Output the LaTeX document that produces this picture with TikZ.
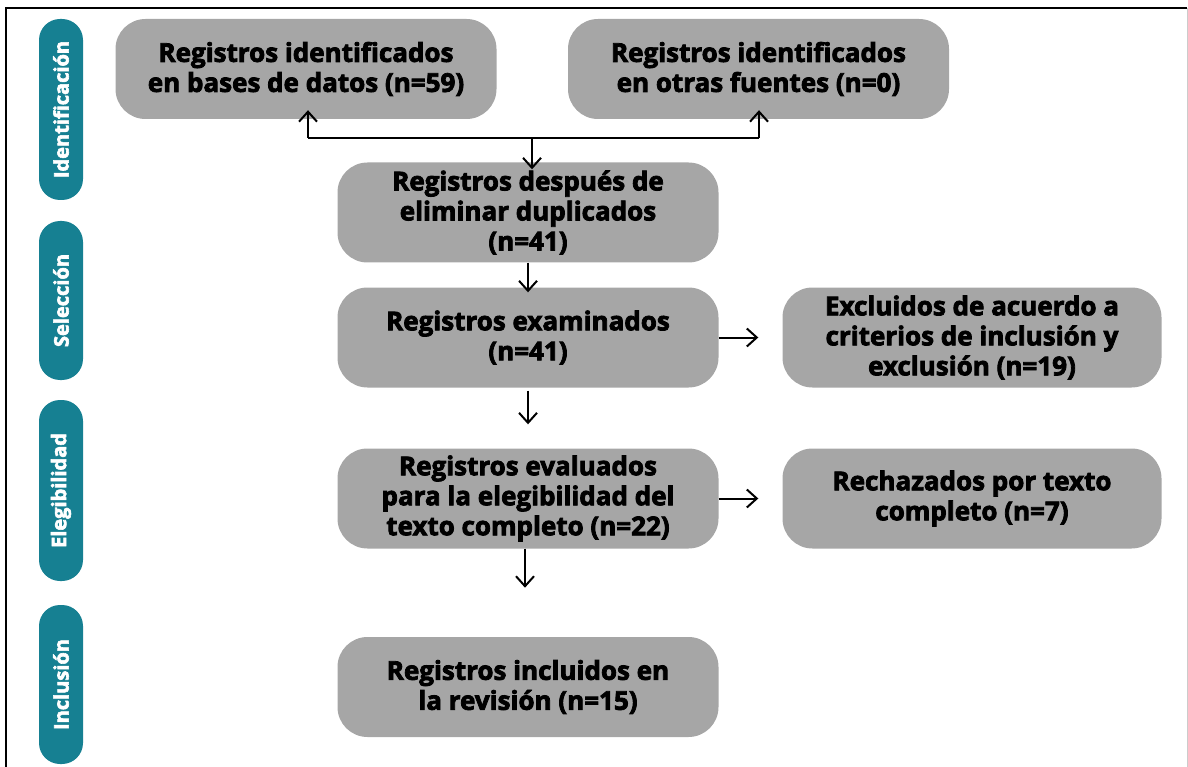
\documentclass[tikz,border=0pt]{standalone}
\usepackage{fontspec}
\setmainfont{Open Sans}[BoldFeatures={FakeBold=3}]
\usetikzlibrary{arrows.meta}
\definecolor{boxgray}{RGB}{166,166,166}
\definecolor{tealpill}{RGB}{22,128,146}
\begin{document}
\begin{tikzpicture}[x=1pt,y=-1pt,
  box/.style={fill=boxgray, rounded corners=30pt, minimum width=381pt, minimum height=100pt,
    align=center, inner sep=0pt, font=\bfseries\fontsize{26}{30}\selectfont},
  pill/.style={fill=tealpill, rounded corners=21pt, minimum height=44pt, inner sep=0pt,
    text=white, rotate=90, font=\bfseries\fontsize{20}{22}\selectfont},
  arr/.style={-{Straight Barb[length=10pt,width=18pt,line width=2pt]}, line width=2pt},
  ln/.style={line width=2pt}]
\useasboundingbox (0,0) rectangle (1188,767);
\draw[line width=2pt] (6,767) -- (6,8) -- (1187,8);
\draw[line width=1pt, black!20] (1187,8) -- (1187,767);

% side labels
\node[pill, minimum width=181pt] (p1) at (61,109.5) {Identificación};
\node[pill, minimum width=159pt] (p2) at (61,300.5) {Selección};
\node[pill, minimum width=181pt] (p3) at (61,490.5) {Elegibilidad};
\node[pill, minimum width=159pt] (p4) at (61,684.5) {Inclusión};

% boxes
\node[box] (b1) at (306,69) {Registros identificados\\en bases de datos (n=59)};
\node[box] (b2) at (758.5,69) {Registros identificados\\en otras fuentes (n=0)};
\node[box] (b3) at (528,212.5) {Registros después de\\eliminar duplicados\\(n=41)};
\node[box] (b4) at (528,337.5) {Registros examinados\\(n=41)};
\node[box, minimum width=379pt] (b5) at (972,337.5) {Excluidos de acuerdo a\\criterios de inclusión y\\exclusión (n=19)};
\node[box] (b6) at (528,498.5) {Registros evaluados\\para la elegibilidad del\\texto completo (n=22)};
\node[box, minimum width=379pt] (b7) at (972,498.5) {Rechazados por texto\\completo (n=7)};
\node[box] (b8) at (528,687) {Registros incluidos en\\la revisión (n=15)};

% connectors
\coordinate (jl) at (308,138);
\coordinate (jr) at (759,138);
\coordinate (jm) at (532,138);
\draw[ln] (jl) -- (jr);
\draw[arr] (jl) -- ([yshift=9pt]jl |- b1.south);
\draw[arr] (jr) -- ([yshift=9pt]jr |- b2.south);
\draw[arr] (jm) -- ([yshift=-7pt]jm |- b3.north);
\draw[arr] (b3.south) -- ([yshift=-5pt]b4.north);
\draw[arr] ([yshift=-3pt]b4.south) -- ([yshift=24pt]b6.north);
\draw[arr] ([xshift=-3pt]b6.south) -- ++(0,39);
\draw[arr] (b4.east) -- ([xshift=-24pt]b5.west |- b4.east);
\draw[arr] (b6.east) -- ([xshift=-24pt]b7.west |- b6.east);
\end{tikzpicture}
\end{document}
